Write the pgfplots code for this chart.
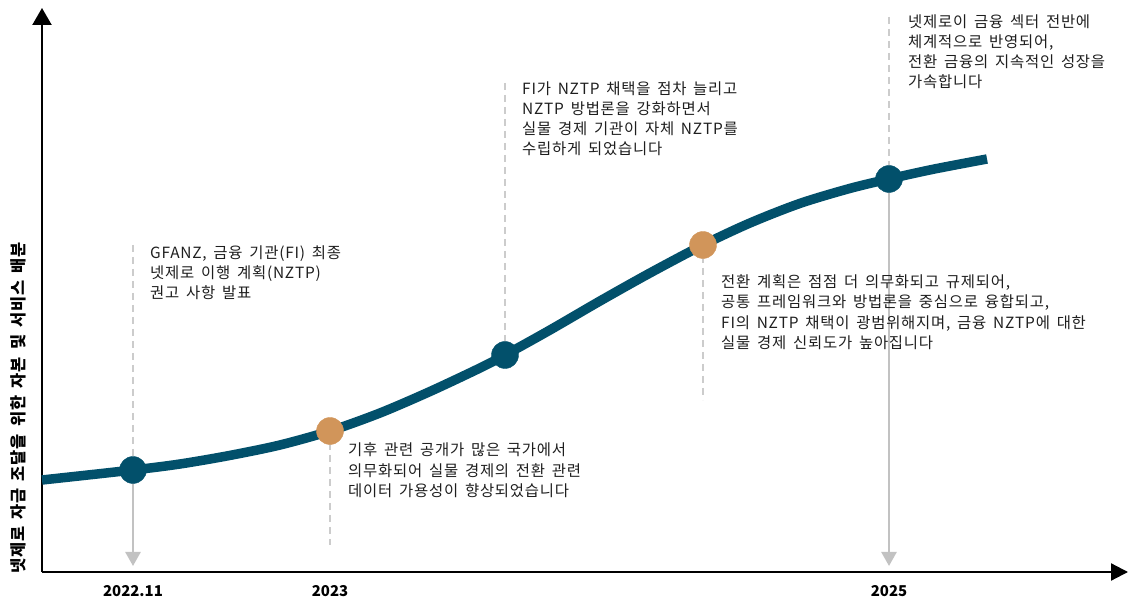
\documentclass[border=0pt]{standalone}
\usepackage{pgfplots}
\pgfplotsset{compat=1.18}
\usetikzlibrary{arrows.meta}
\usepackage{fontspec}
\setmainfont{Noto Sans CJK KR}
\newfontfamily\notefont{Noto Sans CJK KR}[LetterSpace=5, WordSpace=1.6]

\definecolor{curvecol}{HTML}{02506B}
\definecolor{tanpt}{HTML}{D1955A}
\definecolor{dashgrey}{HTML}{CCCCCC}
\definecolor{guidegrey}{HTML}{C2C2C2}
\definecolor{ink}{HTML}{1E1E1E}

\newcommand{\note}[3]{\node[anchor=base west, inner sep=0pt, text=ink, font=\notefont\fontsize{15.5}{17}\selectfont] at (axis cs:#1,#2) {#3};}

\begin{document}
\begin{tikzpicture}
\begin{axis}[
    scale only axis,
    width=1086bp, height=564bp,
    xmin=42, xmax=1128, ymin=28, ymax=592,
    axis lines=left,
    x axis line style={line width=2.2bp, -{Triangle[length=17bp,width=17bp]}},
    y axis line style={line width=2.2bp, -{Triangle[length=17bp,width=19bp]}},
    xtick={133,330,889},
    xticklabels={2022.11,2023,2025},
    ytick=\empty,
    major tick length=0pt,
    xticklabel style={anchor=base, yshift=-24bp, font=\bfseries\fontsize{15}{15}\selectfont},
    ylabel={넷제로 자금 조달을 위한 자본 및 서비스 배분},
    ylabel style={at={(axis description cs:-0.0221,0.2908)}, anchor=center, font=\notefont\bfseries\fontsize{16.5}{16.5}\selectfont},
    clip=false,
]
% grey guides
\addplot[color=dashgrey, line width=2bp, dash pattern=on 7bp off 5bp] coordinates {(133,355) (133,130)};
\addplot[color=guidegrey, line width=2.5bp, -{Triangle[length=14bp,width=15bp]}] coordinates {(133,130) (133,34)};
\addplot[color=dashgrey, line width=2bp, dash pattern=on 7bp off 5bp] coordinates {(330,169) (330,55)};
\addplot[color=dashgrey, line width=2bp, dash pattern=on 7bp off 5bp] coordinates {(505,517) (505,245)};
\addplot[color=dashgrey, line width=2bp, dash pattern=on 7bp off 5bp] coordinates {(703,356) (703,200)};
\addplot[color=dashgrey, line width=2bp, dash pattern=on 7bp off 5bp] coordinates {(889,583) (889,420)};
\addplot[color=guidegrey, line width=2.5bp, -{Triangle[length=14bp,width=15bp]}] coordinates {(889,420) (889,34)};

% curve
\addplot[color=curvecol, line width=9.5bp, smooth, line cap=butt, line join=round] coordinates {
(42,120) (133,130) (180,136) (230,144.6) (280,155) (330,169) (380,187) (430,208.5) (480,232) (505,245)
(550,270) (600,299) (650,327) (703,355) (750,377) (800,396.6) (850,411.6) (889,421) (933,430.7) (987,441)};

% dots
\addplot[only marks, mark=*, mark size=13.5bp, color=curvecol, mark options={draw=curvecol, fill=curvecol}] coordinates {(133,130) (505,245) (889,421)};
\addplot[only marks, mark=*, mark size=13.5bp, color=tanpt, mark options={draw=tanpt, fill=tanpt}] coordinates {(330,169) (703,355)};

% notes
\note{150}{341.5}{GFANZ, 금융 기관(FI) 최종}
\note{150}{321.5}{넷제로 이행 계획(NZTP)}
\note{150}{301.5}{권고 사항 발표}

\note{348}{144.5}{기후 관련 공개가 많은 국가에서}
\note{348}{123.5}{의무화되어 실물 경제의 전환 관련}
\note{348}{103.5}{데이터 가용성이 향상되었습니다}

\note{522}{505.5}{FI가 NZTP 채택을 점차 늘리고}
\note{522}{485.5}{NZTP 방법론을 강화하면서}
\note{522}{465.5}{실물 경제 기관이 자체 NZTP를}
\note{522}{445.5}{수립하게 되었습니다}

\note{721}{312.5}{전환 계획은 점점 더 의무화되고 규제되어,}
\note{721}{292.5}{공통 프레임워크와 방법론을 중심으로 융합되고,}
\note{721}{271.5}{FI의 NZTP 채택이 광범위해지며, 금융 NZTP에 대한}
\note{721}{251.5}{실물 경제 신뢰도가 높아집니다}

\note{908}{572.5}{넷제로이 금융 섹터 전반에}
\note{908}{552.5}{체계적으로 반영되어,}
\note{908}{532.5}{전환 금융의 지속적인 성장을}
\note{908}{512.5}{가속합니다}

\coordinate (bl) at (axis cs:0,0);
\coordinate (tr) at (axis cs:1130,600);
\end{axis}
\pgfresetboundingbox
\path (bl) rectangle (tr);
\end{tikzpicture}
\end{document}
